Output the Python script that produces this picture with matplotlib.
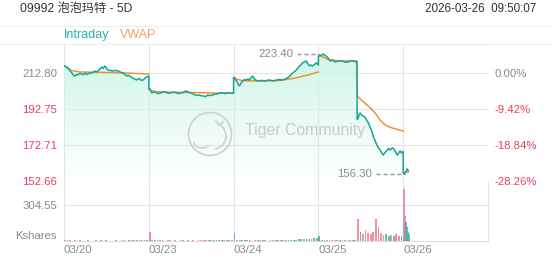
import numpy as np
import matplotlib
matplotlib.use("Agg")
import matplotlib.pyplot as plt
from matplotlib.patches import PathPatch, Circle, Arc
from matplotlib.lines import Line2D

plt.rcParams["font.family"] = ["Liberation Sans", "Noto Sans CJK SC"]

title = "09992 泡泡玛特 - 5D"
stamp = "2026-03-26  09:50:07"
days = ["03/20", "03/23", "03/24", "03/25", "03/26"]
prev_close = 212.80
price_ticks = [212.80, 192.75, 172.71, 152.66]
vol_tick = 304.55
day_len = 330  # trading minutes per day

# intraday price, minutes from open
d1_t = [0, 4, 10, 16, 23, 31, 37, 43, 48, 54, 62, 70, 76, 82, 88, 93, 101, 109, 115, 120, 126, 132, 140, 147, 153, 159, 165, 171, 180, 190, 200, 210, 220, 229, 237, 245, 251, 256, 262, 268, 275, 283, 289, 295, 301, 307, 315, 322, 330]
d1_p = [216.9, 216.7, 216.1, 215.6, 214.0, 212.8, 211.4, 211.1, 212.0, 211.7, 212.6, 212.2, 211.8, 212.8, 212.0, 212.2, 212.9, 212.8, 213.4, 213.9, 213.3, 213.9, 215.0, 216.1, 215.4, 216.7, 215.6, 214.5, 214.2, 213.9, 214.3, 213.9, 213.3, 212.8, 212.0, 211.1, 211.6, 211.1, 210.4, 210.0, 209.4, 208.9, 209.7, 209.5, 208.6, 208.9, 209.8, 210.6, 211.1]
d2_t = [0, 4, 8, 12, 20, 27, 37, 47, 56, 66, 75, 85, 95, 105, 114, 124, 134, 144, 153, 163, 170, 175, 185, 194, 204, 213, 221, 229, 238, 248, 258, 268, 278, 287, 297, 306, 316, 326, 330]
d2_p = [204.2, 203.9, 202.6, 201.7, 202.3, 201.9, 201.4, 201.7, 202.4, 202.2, 201.5, 201.7, 202.1, 201.9, 201.3, 201.7, 202.0, 202.8, 202.2, 201.7, 201.4, 201.1, 200.3, 200.6, 200.1, 200.0, 199.6, 200.6, 200.2, 200.6, 201.0, 201.1, 201.8, 201.7, 201.3, 201.9, 201.5, 201.7, 201.7]
d3_t = [0, 4, 8, 12, 18, 23, 29, 35, 42, 50, 56, 62, 68, 74, 80, 85, 93, 101, 110, 120, 130, 140, 153, 167, 178, 190, 200, 209, 219, 229, 237, 244, 250, 256, 262, 268, 276, 283, 289, 295, 301, 307, 315, 322, 330]
d3_p = [210.4, 210.0, 209.0, 208.3, 206.5, 205.6, 207.2, 208.3, 209.1, 208.9, 209.5, 208.9, 210.2, 211.1, 209.6, 208.9, 208.5, 208.3, 208.8, 208.3, 208.7, 208.9, 208.4, 208.9, 209.2, 208.9, 209.5, 210.0, 211.2, 212.8, 213.5, 214.5, 215.6, 216.7, 217.2, 218.4, 219.0, 219.5, 218.0, 216.7, 217.3, 216.7, 217.6, 218.4, 217.3]
d4_t = [0, 4, 12, 19, 27, 35, 41, 47, 56, 66, 80, 93, 104, 116, 128, 140, 146, 150, 151, 155, 159, 163, 169, 175, 182, 190, 196, 202, 208, 213, 221, 229, 235, 240, 246, 252, 260, 268, 274, 280, 286, 291, 299, 307, 312, 318, 322, 326, 330]
d4_p = [222.0, 222.8, 222.6, 223.4, 222.5, 221.7, 220.4, 219.5, 219.9, 218.9, 219.6, 219.5, 218.8, 218.9, 219.7, 219.5, 218.9, 219.2, 187.0, 187.7, 189.8, 190.5, 189.2, 188.9, 188.0, 186.1, 184.6, 182.2, 180.4, 177.7, 175.0, 172.2, 171.0, 169.9, 168.5, 167.1, 168.6, 169.9, 170.8, 169.9, 170.9, 171.0, 169.2, 167.1, 168.2, 169.4, 168.3, 168.8, 169.0]
d5_t = [0, 5, 10, 15, 20]
d5_p = [157.2, 156.3, 157.6, 159.4, 158.4]

# vwap
v1_t = [0, 30, 60, 120, 180, 240, 290, 330]
v1_p = [216.7, 214.2, 213.4, 213.2, 213.0, 212.8, 212.5, 212.2]
v2_t = [0, 20, 60, 120, 180, 240, 300, 330]
v2_p = [203.6, 202.6, 202.2, 202.0, 201.9, 201.7, 201.6, 201.6]
v3_t = [0, 35, 110, 180, 240, 290, 330]
v3_p = [210.0, 208.5, 208.3, 208.6, 210.0, 211.7, 213.4]
v4_t = [0, 20, 40, 80, 150, 151, 171, 194, 221, 240, 260, 287, 330]
v4_p = [222.5, 221.5, 220.2, 219.6, 219.5, 200.0, 197.2, 194.4, 190.5, 186.6, 183.8, 182.2, 180.5]
v5_t = [0, 20]
v5_p = [157.4, 157.6]

# volume (K shares), 10-minute bars
vol_t = list(range(0, 331, 10))
vol_d1 = [10, 6, 5, 4, 5, 4, 6, 3, 4, 5, 3, 4, 5, 3, 8, 4, 5, 3, 4, 3, 5, 4, 6, 5, 4, 7, 5, 6, 8, 7, 9, 10, 12, 14]
vol_d2 = [76, 8, 6, 5, 6, 5, 4, 5, 6, 4, 5, 4, 5, 6, 4, 5, 4, 5, 4, 6, 5, 7, 6, 5, 6, 5, 7, 6, 5, 8, 6, 9, 10, 12]
vol_d3 = [70, 8, 6, 6, 5, 6, 5, 4, 6, 5, 5, 6, 5, 4, 6, 5, 6, 7, 8, 6, 9, 8, 10, 12, 11, 14, 13, 16, 18, 15, 20, 22, 25, 28]
vol_d4 = [45, 10, 8, 7, 6, 6, 5, 6, 5, 6, 5, 5, 6, 5, 7, 186, 80, 60, 90, 70, 55, 75, 186, 118, 70, 50, 60, 45, 50, 40, 55, 45, 40, 50]
vol_d5_t = [0, 4, 8, 12, 16, 20]
vol_d5 = [440, 215, 160, 120, 80, 60]

teal = "#17a593"
orange = "#f28f36"
red = "#e8415d"
gray = "#8a8a8a"
grid = "#e4e4e4"

W, H = 552, 265
fig = plt.figure(figsize=(W / 100, H / 100), dpi=100)
ax = fig.add_axes([64 / W, (H - 181) / H, 424 / W, 137 / H])
axv = fig.add_axes([64 / W, (H - 241) / H, 424 / W, 60 / H])

price_days = [(d1_t, d1_p), (d2_t, d2_p), (d3_t, d3_p), (d4_t, d4_p), (d5_t, d5_p)]
vwap_days = [(v1_t, v1_p), (v2_t, v2_p), (v3_t, v3_p), (v4_t, v4_p), (v5_t, v5_p)]
X = np.concatenate([np.array(t) + i * day_len for i, (t, p) in enumerate(price_days)])
P = np.concatenate([p for t, p in price_days])

ymin = price_ticks[-1]
ymax = prev_close + 29 * (prev_close - ymin) / 108
xmax = 5 * day_len

# gradient fill under the line
grad = np.zeros((256, 1, 4))
grad[:, 0, 0] = 0.80
grad[:, 0, 1] = 0.965
grad[:, 0, 2] = 0.905
grad[:, 0, 3] = np.linspace(1.0, 0.0, 256)
fill = ax.fill_between(X, P, ymin, facecolor="none", edgecolor="none")
clip = PathPatch(fill.get_paths()[0], transform=ax.transData, facecolor="none", edgecolor="none")
ax.add_patch(clip)
im = ax.imshow(grad, extent=[0, xmax, ymin, ymax], aspect="auto", zorder=1, interpolation="bilinear")
im.set_clip_path(clip)

for y in price_ticks:
    ax.axhline(y, color=grid, lw=0.8, zorder=0)
for i in range(6):
    ax.axvline(i * day_len, color=grid, lw=0.8, zorder=0)
    axv.axvline(i * day_len, color=grid, lw=0.8, zorder=0)

ax.plot(X, P, color=teal, lw=1.1, zorder=4)
for i, (t, p) in enumerate(vwap_days):
    ax.plot(np.array(t) + i * day_len, p, color=orange, lw=1.1, zorder=3)

# high / low markers
hi = np.argmax(P)
lo = np.argmin(P)
px_min = xmax / 424
ax.plot([X[hi] - 26 * px_min, X[hi] - 3 * px_min], [P[hi]] * 2, color="#999999", lw=1, ls=(0, (3, 2)), zorder=5)
ax.text(X[hi] - 30 * px_min, P[hi], f"{P[hi]:.2f}", color=gray, fontsize=8.2, ha="right", va="center")
ax.plot([X[lo] - 28 * px_min, X[lo] - 1 * px_min], [P[lo]] * 2, color="#999999", lw=1, ls=(0, (3, 2)), zorder=5)
ax.text(X[lo] - 33 * px_min, P[lo], f"{P[lo]:.2f}", color=gray, fontsize=8.2, ha="right", va="center")

ax.set_xlim(0, xmax)
ax.set_ylim(ymin, ymax)
ax.set_xticks([])
ax.set_yticks(price_ticks)
ax.set_yticklabels([f"{v:.2f}" for v in price_ticks], fontsize=8.2)
for lab, v in zip(ax.get_yticklabels(), price_ticks):
    lab.set_color(gray if v == prev_close else red)
ax.tick_params(axis="y", length=0, pad=5)
for s in ax.spines.values():
    s.set_visible(False)
ax.spines["top"].set_visible(True)
ax.spines["top"].set_color("#eeeeee")

axr = ax.twinx()
axr.set_ylim(ymin, ymax)
axr.set_yticks(price_ticks)
pct = [(v / prev_close - 1) * 100 for v in price_ticks]
axr.set_yticklabels([f"{v:.2f}%" if abs(v) > 0.001 else "0.00%" for v in pct], fontsize=8.2)
for lab, v in zip(axr.get_yticklabels(), price_ticks):
    lab.set_color(gray if v == prev_close else red)
axr.tick_params(axis="y", length=0, pad=4.5)
for s in axr.spines.values():
    s.set_visible(False)

# volume
vol_days = [(vol_t, vol_d1), (vol_t, vol_d2), (vol_t, vol_d3), (vol_t, vol_d4), (vol_d5_t, vol_d5)]
VX = np.concatenate([np.array(t) + i * day_len for i, (t, v) in enumerate(vol_days)])
VV = np.concatenate([v for t, v in vol_days])
up = np.interp(VX + 2, X, P) >= np.interp(VX - 8, X, P)
colors = np.where(up, "#3fb8a4", "#f07f95")
axv.bar(VX, VV, width=7, color=colors, align="edge", zorder=3, alpha=0.85, lw=0)
axv.axhline(vol_tick, color=grid, lw=0.8, zorder=0)
axv.set_xlim(0, xmax)
axv.set_ylim(0, vol_tick * 60 / 36)
axv.set_yticks([vol_tick])
axv.set_yticklabels([f"{vol_tick:.2f}"], fontsize=8.2, color=gray)
axv.tick_params(axis="y", length=0, pad=5)
axv.set_xticks([i * day_len for i in range(5)])
axv.set_xticklabels(days, fontsize=8.2, color=gray, ha="left")
axv.tick_params(axis="x", length=0, pad=3)
for s in axv.spines.values():
    s.set_visible(False)
axv.spines["bottom"].set_visible(True)
axv.spines["bottom"].set_color("#dddddd")
axv.spines["right"].set_visible(True)
axv.spines["right"].set_color(grid)
axv.text(-7 / 424, 5 / 60, "Kshares", transform=axv.transAxes, fontsize=8.2, color=gray, ha="right", va="center")

# header, legend band
fig.text(20 / W, 1 - 9 / H, title, fontsize=8.7, color="#333333", va="center")
fig.text(536 / W, 1 - 9 / H, stamp, fontsize=8.4, color="#333333", va="center", ha="right")
for yy in (25.5, 44):
    fig.add_artist(Line2D([0, 1], [1 - yy / H] * 2, color="#eeeeee", lw=0.8))
fig.text(64 / W, 1 - 35 / H, "Intraday", fontsize=9, color="#27b3a0", va="center")
fig.text(120 / W, 1 - 35 / H, "VWAP", fontsize=9, color="#f5a160", va="center")

# watermark
wm = "#cfcfcf"
tr = fig.dpi_scale_trans
fig.add_artist(Circle((2.10, 1.31), 0.215, transform=tr, fill=False, ec=wm, lw=1.2))
fig.add_artist(Arc((2.13, 1.29), 0.26, 0.26, angle=0, theta1=-80, theta2=60, transform=tr, ec=wm, lw=1.2))
fig.add_artist(Arc((2.02, 1.23), 0.16, 0.12, angle=0, theta1=180, theta2=330, transform=tr, ec=wm, lw=1.2))
fig.add_artist(Line2D([2.16, 2.19, 2.23], [1.44, 1.40, 1.43], transform=tr, color=wm, lw=1.2))
fig.text(245 / W, 1 - 131 / H, "Tiger Community", fontsize=11.4, color="#c9c9c9", va="center")

fig.savefig("out.png", dpi=100)
